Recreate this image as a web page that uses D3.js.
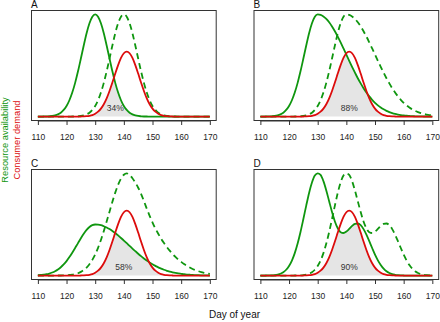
<!DOCTYPE html>
<html><head><meta charset="utf-8">
<script src="https://cdn.jsdelivr.net/npm/d3@7"></script>
<style>
body{margin:0;background:#fff}
svg{display:block}
text{font-family:"Liberation Sans",Arial,Helvetica,sans-serif}
</style></head>
<body><svg id="chart" width="440" height="322"></svg>
<script>
// ---- data ----
const days = d3.range(110, 171); // day of year 110..170
const xTicks = [110, 120, 130, 140, 150, 160, 170];
const panelLetters = ["A", "B", "C", "D"];
const overlapLabels = ["34%", "88%", "58%", "90%"];
const overlapLabelDay = [137, 141, 140, 141];
const overlapLabelLevel = [0.085, 0.085, 0.085, 0.085];

// consumer demand (same in every panel)
const demand = [0,0,0,0,0,0,0,0,0,0,0,0,0,0,0,
  .001,.002,.004,.008,.015,.028,.048,.078,.121,.179,.251,.333,.421,.504,.574,.620,.636,
  .620,.574,.504,.421,.333,.251,.179,.121,.078,.048,.028,.015,.008,.004,.002,.001,
  0,0,0,0,0,0,0,0,0,0,0,0,0];

// resource availability, current (solid) and shifted (dashed)
const resA = [0,0,.001,.001,.003,.006,.012,.022,.038,.065,.104,.160,.235,.330,.443,.568,.696,.816,.913,.978,1,
  .978,.913,.816,.696,.568,.443,.330,.235,.160,.104,.065,.038,.022,.012,.006,.003,.001,.001,
  0,0,0,0,0,0,0,0,0,0,0,0,0,0,0,0,0,0,0,0,0,0];
const shiftA = [0,0,0,0,0,0,0,0,0,0,0,0,
  .001,.001,.003,.006,.012,.022,.038,.065,.104,.160,.235,.330,.443,.568,.696,.816,.913,.978,1,
  .978,.913,.816,.696,.568,.443,.330,.235,.160,.104,.065,.038,.022,.012,.006,.003,.001,.001,
  0,0,0,0,0,0,0,0,0,0,0,0];

const resB = [0,0,.001,.001,.003,.006,.012,.022,.038,.065,.104,.160,.235,.330,.443,.568,.696,.816,.913,.978,1,
  .995,.980,.956,.923,.882,.835,.783,.726,.667,.607,.546,.487,.430,.375,.325,.278,.236,.198,.164,.135,
  .110,.089,.071,.056,.044,.034,.026,.020,.015,.011,.008,.006,.004,.003,.002,.002,.001,.001,0,0];
const shiftB = [0,0,0,0,0,0,0,0,0,0,0,0,
  .001,.001,.003,.006,.012,.022,.038,.065,.104,.160,.235,.330,.443,.568,.696,.816,.913,.978,1,
  .995,.980,.956,.923,.882,.835,.783,.726,.667,.607,.546,.487,.430,.375,.325,.278,.236,.198,.164,.135,
  .110,.089,.071,.056,.044,.034,.026,.020,.015,.011];

const resC = [.003,.006,.009,.013,.020,.030,.043,.060,.082,.109,.142,.181,.224,.270,.318,.365,.409,.447,.476,.494,.5,
  .498,.493,.483,.471,.455,.437,.416,.393,.368,.343,.317,.290,.264,.239,.214,.190,.168,.147,.128,.110,
  .095,.080,.068,.057,.047,.039,.032,.026,.021,.017,.013,.010,.008,.006,.005,.004,.003,.002,.002,.001];
const shiftC = [0,0,0,0,0,0,0,
  .001,.001,.002,.003,.006,.009,.015,.023,.036,.054,.078,.111,.154,.207,.272,.349,.435,.529,.626,.722,.812,.889,.949,.987,1,
  .985,.953,.91,.86,.80,.73,.655,.585,.52,.46,.41,.36,.318,.28,.245,.212,.183,.157,.134,.113,
  .095,.079,.065,.053,.043,.034,.027,.021,.016];

const resD = [0,0,.001,.001,.002,.005,.010,.018,.033,.057,.094,.147,.220,.314,.427,.554,.685,.809,.911,.979,1,
  .985,.924,.833,.727,.622,.530,.463,.425,.417,.431,.457,.486,.506,.510,.493,.455,.401,.337,.270,.205,
  .149,.103,.068,.042,.025,.014,.008,.004,.002,.001,0,0,0,0,0,0,0,0,0,0];
const shiftD = [0,0,0,0,0,0,0,0,0,0,0,0,
  .001,.001,.002,.005,.010,.018,.033,.057,.094,.147,.220,.314,.427,.554,.685,.809,.911,.979,1,
  .985,.924,.833,.727,.622,.530,.463,.425,.417,.431,.457,.486,.506,.510,.493,.455,.401,.337,.270,.205,
  .149,.103,.068,.042,.025,.014,.008,.004,.002,.001];

const resourceNow = [resA, resB, resC, resD];
const resourceShifted = [shiftA, shiftB, shiftC, shiftD];

// ---- layout / style ----
const GREEN = "#0f960f", RED = "#dc0c0c";
const lefts = [31, 253.5], tops = [10, 169];
const W = 185.7, H = 111;
const svg = d3.select("#chart");

panelLetters.forEach((letter, i) => {
  const gx = lefts[i % 2], gy = tops[Math.floor(i / 2)];
  const g = svg.append("g").attr("transform", `translate(${gx},${gy})`);
  const x = d3.scaleLinear().domain([107.6, 172.4]).range([0, W]);
  const y = d3.scaleLinear().domain([-0.0432, 1.0432]).range([H, 0]);
  const now = resourceNow[i], shifted = resourceShifted[i];

  // overlap shading
  const area = d3.area()
    .x((d, k) => x(days[k]))
    .y0(y(0))
    .y1((d, k) => y(Math.min(now[k], demand[k])))
    .curve(d3.curveMonotoneX);
  g.append("path").datum(days).attr("d", area).attr("fill", "#e5e5e5");

  const line = vals => d3.line()
    .x((d, k) => x(days[k]))
    .y((d, k) => y(vals[k]))
    .curve(d3.curveMonotoneX)(days);

  g.append("path").attr("d", line(shifted)).attr("fill", "none")
    .attr("stroke", GREEN).attr("stroke-width", 1.8).attr("stroke-dasharray", "6,4");
  g.append("path").attr("d", line(now)).attr("fill", "none")
    .attr("stroke", GREEN).attr("stroke-width", 1.8);
  g.append("path").attr("d", line(demand)).attr("fill", "none")
    .attr("stroke", RED).attr("stroke-width", 1.8);

  // overlap label
  g.append("text").attr("x", x(overlapLabelDay[i])).attr("y", y(overlapLabelLevel[i]))
    .attr("text-anchor", "middle").attr("dominant-baseline", "central")
    .attr("font-size", 8.5).attr("fill", "#333").text(overlapLabels[i]);

  // box
  g.append("rect").attr("x", 0.5).attr("y", 0.5).attr("width", W - 1).attr("height", H - 1)
    .attr("fill", "none").attr("stroke", "#333").attr("stroke-width", 1);

  // x axis
  const ax = g.append("g").attr("transform", `translate(0,${H})`)
    .call(d3.axisBottom(x).tickValues(xTicks).tickSize(4).tickPadding(9));
  ax.select(".domain").remove();
  ax.selectAll(".tick line").attr("stroke", "#333");
  ax.selectAll(".tick text").attr("font-size", 8.5).attr("fill", "#222")
    .attr("font-family", '"Liberation Sans",Arial,sans-serif');
  ax.append("line").attr("x1", x(110)).attr("x2", x(170)).attr("y1", 0).attr("y2", 0)
    .attr("stroke", "#333");

  // panel letter
  g.append("text").attr("x", 0).attr("y", -2).attr("font-size", 10).attr("fill", "#111").text(letter);
});

// axis titles
svg.append("text").attr("transform", "translate(8.2,140) rotate(-90)")
  .attr("text-anchor", "middle").attr("font-size", 9.3).attr("fill", GREEN)
  .text("Resource availability");
svg.append("text").attr("transform", "translate(19.5,140) rotate(-90)")
  .attr("text-anchor", "middle").attr("font-size", 9.3).attr("fill", RED)
  .text("Consumer demand");
svg.append("text").attr("x", 234.5).attr("y", 318).attr("text-anchor", "middle")
  .attr("font-size", 10).attr("fill", "#111").text("Day of year");
</script></body></html>
